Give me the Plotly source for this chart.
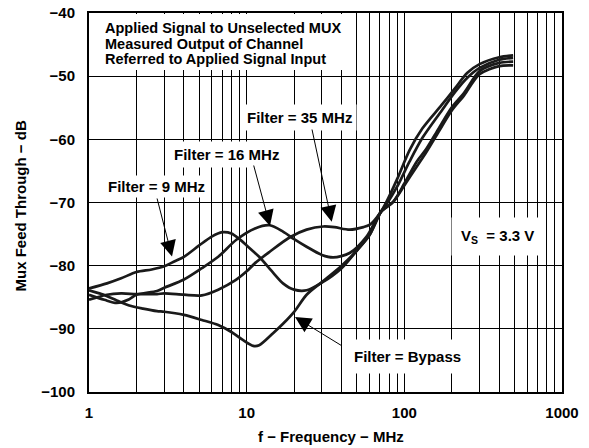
import math
import plotly.graph_objects as go

# ---------------- data ----------------
f_9 = [1, 1.3, 1.6, 2, 2.5, 3, 3.5, 4, 5, 6, 7, 8, 9, 10, 12, 14.7, 17, 20, 24, 30, 40, 50, 60, 71,
       77, 90, 108, 130, 172, 210, 250, 300, 400, 490]
db_9 = [-83.6, -82.8, -82.0, -81.0, -80.6, -80.1, -79.3, -78.6, -76.8, -75.4, -74.7, -74.9, -75.8, -76.8,
        -78.6, -81.1, -82.8, -83.8, -83.9, -82.7, -80.4, -77.6, -75.2, -71.5,
        -70.3, -67.5, -63.5, -59.8, -55.5, -52.5, -50.3, -48.7, -47.4, -47.1]

f_16 = [1, 1.25, 1.5, 1.8, 2, 2.7, 3, 4, 5.2, 6.6, 8.6, 11.3, 14, 17, 20, 24, 30, 35.4, 45, 57.6, 71,
        85, 100, 120, 138, 165, 199, 240, 300, 400, 490]
db_16 = [-84.6, -85.4, -85.9, -85.3, -84.6, -84.0, -83.5, -82.2, -80.4, -78.6, -75.9, -74.1, -73.6, -74.6,
         -75.8, -77.0, -78.3, -78.7, -78.0, -75.4, -71.5,
         -69.9, -67.0, -63.5, -61.5, -58.3, -55.0, -52.6, -49.2, -47.9, -47.7]

f_35 = [1, 1.3, 1.6, 2, 2.7, 3, 4, 5.2, 6.6, 8.5, 10, 11.3, 14, 18.8, 24, 30.6, 36, 45, 55, 60.5, 70,
        77, 90, 108, 130, 172, 210, 250, 300, 400, 490]
db_35 = [-85.4, -84.6, -84.4, -84.5, -84.5, -84.4, -84.6, -84.7, -83.8, -82.3, -80.9, -79.6, -77.8, -75.5,
         -74.3, -73.8, -73.9, -74.3, -73.9, -73.5, -71.7,
         -69.9, -66.3, -61.7, -58.3, -54.6, -51.9, -49.5, -48.1, -47.0, -46.7]

f_bp = [1, 1.2, 1.5, 1.8, 2.2, 2.7, 3, 4, 5.2, 6.6, 8, 9.5, 11, 12, 14.7, 17, 20, 24, 30, 40, 50, 60, 71,
        85, 100, 120, 138, 165, 199, 240, 300, 400, 490]
db_bp = [-83.9, -84.5, -85.5, -86.3, -86.8, -87.2, -87.3, -87.8, -88.6, -89.4, -90.5, -91.8, -92.7, -92.6,
         -90.7, -89.2, -87.3, -84.6, -82.6, -80.0, -77.6, -75.2, -71.5,
         -69.9, -67.3, -64.3, -62.0, -58.8, -55.5, -53.0, -49.7, -48.4, -48.3]

x_tickvals = [m * 10 ** d for d in range(3) for m in range(1, 10)] + [1000]
x_ticktext = [str(v) if v in (1, 10, 100, 1000) else "" for v in x_tickvals]
y_tickvals = [-100, -90, -80, -70, -60, -50, -40]

# ---------------- figure ----------------
W, H = 589, 448
L, R, T, B = 89, 27, 13, 56
PW, PH = W - L - R, H - T - B

def px(x):
    return (x - L) / PW

def py(y):
    return 1 - (y - T) / PH

FONT = "Liberation Sans, Arial, sans-serif"
LINE = dict(color="#1a1a1a", width=2.7)

fig = go.Figure()
for fx, fy, nm in [(f_9, db_9, "9 MHz"), (f_16, db_16, "16 MHz"), (f_35, db_35, "35 MHz"), (f_bp, db_bp, "Bypass")]:
    fig.add_trace(go.Scatter(x=fx, y=fy, mode="lines", name=nm, line=dict(shape="spline", smoothing=0.8, **LINE),
                             showlegend=False, hoverinfo="skip"))

fig.update_layout(
    width=W, height=H,
    margin=dict(l=L, r=R, t=T, b=B, autoexpand=False),
    paper_bgcolor="white", plot_bgcolor="white",
    font=dict(family=FONT, size=15, color="black", weight="bold"),
    showlegend=False,
)
fig.update_xaxes(type="log", range=[0, 3], tickvals=x_tickvals, ticktext=x_ticktext,
                 showgrid=True, gridcolor="black", gridwidth=1,
                 showline=True, linecolor="black", linewidth=2, mirror=True,
                 ticks="", ticklabelstandoff=6, zeroline=False, automargin=False,
                 tickfont=dict(family=FONT, size=15, color="black", weight="bold"))
fig.update_yaxes(range=[-100, -40], tickvals=y_tickvals,
                 showgrid=True, gridcolor="black", gridwidth=1,
                 showline=True, linecolor="black", linewidth=2, mirror=True,
                 ticks="", ticklabelstandoff=9, zeroline=False, automargin=False,
                 tickfont=dict(family=FONT, size=15, color="black", weight="bold"))

# white backdrop for the top-left description block
fig.add_shape(type="rect", xref="paper", yref="paper", x0=px(L + 1), x1=px(342), y0=py(70), y1=py(T + 1),
              fillcolor="white", line=dict(width=0), layer="above")

ann = []
top_lines = ["Applied Signal to Unselected MUX", "Measured Output of Channel", "Referred to Applied Signal Input"]
for i, t in enumerate(top_lines):
    ann.append(dict(text=t, xref="paper", yref="paper", x=px(103), y=py(28.3 + 15.4 * i),
                    xanchor="left", yanchor="middle", showarrow=False,
                    font=dict(family=FONT, size=14.5, color="black", weight="bold")))

labels = [
    ("Filter = 9 MHz", 156.5, 186, 2),
    ("Filter = 16 MHz", 226.7, 155, 4),
    ("Filter = 35 MHz", 299, 117.5, 4),
    ("V<sub>S</sub>\u00a0\u00a0= 3.3 V", 497.5, 236, 9),
    ("Filter = Bypass", 407, 356.5, 8),
]
for t, cx, cy, pad in labels:
    ann.append(dict(text=t, xref="paper", yref="paper", x=px(cx), y=py(cy),
                    xanchor="center", yanchor="middle", showarrow=False,
                    bgcolor="white", borderpad=pad,
                    font=dict(family=FONT, size=15, color="black", weight="bold")))

# arrows: (tip pixel, tail pixel)
arrows = [
    ((172, 256.5), (156.7, 197)),
    ((270, 226), (253.3, 164)),
    ((331.7, 221.7), (311.7, 128)),
    ((295, 317), (343.3, 346.7)),
]
for (tx, ty), (sx, sy) in arrows:
    ann.append(dict(text="", xref="paper", yref="paper", x=px(tx), y=py(ty),
                    ax=sx - tx, ay=sy - ty, axref="pixel", ayref="pixel",
                    showarrow=True, arrowhead=2, arrowsize=3.2, arrowwidth=1, arrowcolor="black"))

# axis titles
ann.append(dict(text="f \u2212 Frequency \u2212 MHz", xref="paper", yref="paper", x=px(331.4), y=py(436.7),
                xanchor="center", yanchor="middle", showarrow=False,
                font=dict(family=FONT, size=15, color="black", weight="bold")))
ann.append(dict(text="Mux Feed Through \u2212 dB", xref="paper", yref="paper", x=px(20), y=py(206.5),
                xanchor="center", yanchor="middle", showarrow=False, textangle=-90,
                font=dict(family=FONT, size=15, color="black", weight="bold")))

fig.update_layout(annotations=ann)
fig.write_html("out.html", config={"displayModeBar": False},
               post_script="document.body.style.margin='0';document.body.style.padding='0';")
